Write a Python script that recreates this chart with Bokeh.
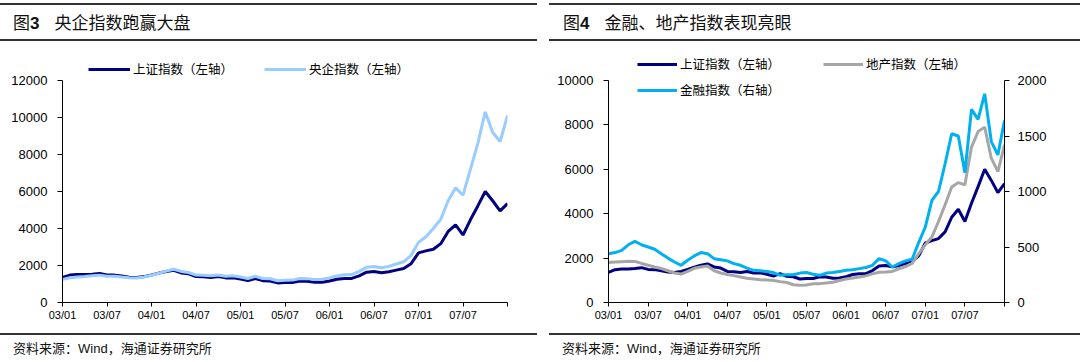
from bokeh.plotting import figure
from bokeh.models import Range1d, LinearAxis, FixedTicker, Legend, LegendItem, Div
from bokeh.layouts import row, column
from bokeh.embed import file_html
from bokeh.resources import INLINE

# ---------------- data (month index 0 = 2003/01 ... 60 = 2008/01) ----------------
months = list(range(61))
tick_pos = [0, 6, 12, 18, 24, 30, 36, 42, 48, 54, 60]
tick_labels = ["03/01", "03/07", "04/01", "04/07", "05/01", "05/07",
               "06/01", "06/07", "07/01", "07/07", ""]

shanghai = [1360, 1480, 1510, 1510, 1530, 1570, 1490, 1480, 1430, 1370, 1350, 1400, 1490,
            1590, 1680, 1740, 1600, 1550, 1400, 1390, 1350, 1400, 1330, 1340, 1270,
            1190, 1300, 1180, 1160, 1060, 1080, 1080, 1160, 1150, 1090, 1100, 1160,
            1260, 1300, 1300, 1440, 1640, 1670, 1610, 1660, 1750, 1840, 2100, 2680,
            2790, 2880, 3180, 3840, 4200, 3650, 4470, 5220, 6000, 5500, 4950, 5350]

yangqi = [1250, 1340, 1380, 1400, 1440, 1480, 1420, 1420, 1380, 1340, 1330, 1380, 1470,
          1580, 1700, 1800, 1680, 1620, 1480, 1470, 1440, 1490, 1420, 1440, 1380,
          1300, 1420, 1300, 1280, 1180, 1200, 1210, 1300, 1290, 1240, 1260, 1330,
          1440, 1500, 1510, 1680, 1900, 1950, 1880, 1950, 2080, 2200, 2550, 3250,
          3550, 4000, 4500, 5500, 6200, 5800, 7200, 8600, 10300, 9200, 8700, 10100]

dichan = [1800, 1820, 1840, 1860, 1850, 1760, 1680, 1600, 1530, 1430, 1330, 1280, 1400,
          1540, 1600, 1640, 1430, 1330, 1260, 1210, 1150, 1090, 1060, 1030, 1010,
          990, 940, 900, 800, 780, 790, 840, 850, 880, 910, 990, 1060,
          1100, 1150, 1200, 1290, 1360, 1370, 1400, 1520, 1620, 1760, 2200, 2600,
          2950, 3650, 4400, 5200, 5400, 5300, 7000, 7700, 7900, 6500, 5900, 7100]

jinrong = [440, 450, 470, 520, 550, 520, 500, 480, 440, 400, 365, 335, 380,
           420, 450, 440, 395, 385, 375, 350, 335, 310, 290, 285, 280,
           270, 245, 250, 250, 265, 270, 255, 245, 265, 270, 280, 290,
           295, 305, 315, 335, 395, 375, 320, 350, 375, 390, 540, 680,
           920, 1000, 1250, 1520, 1500, 1170, 1740, 1650, 1880, 1450, 1330, 1640]

left_ticks = [0, 2000, 4000, 6000, 8000, 10000, 12000]
right_left_ticks = [0, 2000, 4000, 6000, 8000, 10000]
right_right_ticks = [0, 500, 1000, 1500, 2000]

# ---------------- style ----------------
CJK = "Noto Sans CJK SC"
LAT = "Liberation Sans"
C_SH = "#000080"
C_YQ = "#99CCFF"
C_DC = "#A6A6A6"
C_JR = "#00B0F0"
RULE = "#333333"

FIG_H = 292          # figure height in px
FRAME_TOP = 9        # border above the frame (frame extends above top tick to hold legend)
FRAME_BOT = 31       # border below the frame
AXIS_PX = 222        # pixel length of the labelled axis span
FRAME_PX = FIG_H - FRAME_TOP - FRAME_BOT
EXT = FRAME_PX / AXIS_PX


def style_axis(ax, size):
    ax.axis_line_color = "black"
    ax.axis_line_width = 1
    ax.major_tick_line_color = "black"
    ax.major_tick_out = 5
    ax.major_tick_in = 0
    ax.minor_tick_line_color = None
    ax.major_label_text_font = LAT
    ax.major_label_text_font_size = size
    ax.major_label_text_color = "black"
    ax.major_label_standoff = 10


def base_fig(width, y_top, bl, br):
    p = figure(width=width, height=FIG_H, x_range=Range1d(0, 60), y_range=Range1d(0, y_top * EXT),
               output_backend="svg", toolbar_location=None,
               min_border_left=bl, min_border_right=br,
               min_border_top=FRAME_TOP, min_border_bottom=FRAME_BOT)
    p.outline_line_color = None
    p.grid.visible = False
    p.background_fill_color = "white"
    p.border_fill_color = "white"
    style_axis(p.xaxis[0], "11px")
    p.xaxis.ticker = FixedTicker(ticks=tick_pos)
    p.xaxis.major_label_overrides = {t: l for t, l in zip(tick_pos, tick_labels)}
    p.xaxis.major_tick_out = 4
    p.xaxis.major_label_standoff = 2
    style_axis(p.yaxis[0], "13px")
    p.yaxis.bounds = (0, y_top)
    return p


def make_legend(items, loc, spacing, gw):
    return Legend(items=items, location=loc, orientation="horizontal", spacing=spacing,
                  padding=0, margin=0, glyph_width=gw, glyph_height=14, label_standoff=3,
                  label_text_font=CJK, label_text_font_size="12.5px", label_text_color="black",
                  border_line_color=None, background_fill_alpha=0)


def title_div(num, text, width, ml, rw, pad):
    html = (f'<div style="box-sizing:border-box;margin-top:3px;margin-left:{ml}px;width:{rw}px;height:38px;'
            f'border-top:2px solid {RULE};border-bottom:2px solid {RULE};'
            f'padding-left:{pad}px;font-family:\'{CJK}\';font-size:17px;line-height:34px;'
            f'color:#111;white-space:nowrap;">图<b style="font-family:\'{LAT}\';">{num}</b>'
            f'<span style="margin-left:15px;">{text}</span></div>')
    return Div(text=html, width=width, height=41, margin=(0, 0, 0, 0))


def source_div(width, ml, rw, pad):
    html = (f'<div style="box-sizing:border-box;margin-left:{ml}px;width:{rw}px;height:29px;'
            f'border-top:2px solid {RULE};padding-left:{pad}px;font-family:\'{CJK}\';'
            f'font-size:13px;line-height:26px;color:#111;white-space:nowrap;">'
            f'资料来源：<span style="font-family:\'{LAT}\';">Wind</span>，海通证券研究所</div>')
    return Div(text=html, width=width, height=29, margin=(0, 0, 0, 0))


# ---------------- left chart ----------------
WL = 540
p1 = base_fig(WL, 12000, 62, 33)
p1.yaxis.ticker = FixedTicker(ticks=left_ticks)
r_sh1 = p1.line(months, shanghai, line_color=C_SH, line_width=3)
r_yq = p1.line(months, yangqi, line_color=C_YQ, line_width=3)
lg1 = make_legend([LegendItem(label="上证指数（左轴）", renderers=[r_sh1]),
                   LegendItem(label="央企指数（左轴）", renderers=[r_yq])], (26, 224), 31, 42)
p1.add_layout(lg1)

# ---------------- right chart ----------------
WR = 532
p2 = base_fig(WR, 10000, 60, 76)
p2.yaxis.ticker = FixedTicker(ticks=right_left_ticks)
p2.extra_y_ranges = {"r": Range1d(0, 2000 * EXT)}
ax_r = LinearAxis(y_range_name="r", ticker=FixedTicker(ticks=right_right_ticks))
style_axis(ax_r, "13px")
ax_r.major_label_standoff = 8
ax_r.bounds = (0, 2000)
p2.add_layout(ax_r, "right")
r_sh2 = p2.line(months, shanghai, line_color=C_SH, line_width=3)
r_dc = p2.line(months, dichan, line_color=C_DC, line_width=3)
r_jr = p2.line(months, jinrong, line_color=C_JR, line_width=3, y_range_name="r")
lg2a = make_legend([LegendItem(label="上证指数（左轴）", renderers=[r_sh2]),
                    LegendItem(label="地产指数（左轴）", renderers=[r_dc])], (29, 229), 43, 40)
lg2b = make_legend([LegendItem(label="金融指数（右轴）", renderers=[r_jr])], (29, 203), 43, 40)
p2.add_layout(lg2a)
p2.add_layout(lg2b)

left = column(title_div("3", "央企指数跑赢大盘", WL, 0, 537, 13), p1,
              source_div(WL, 0, 537, 13), spacing=0)
right = column(title_div("4", "金融、地产指数表现亮眼", WR, 1, 531, 14), p2,
               source_div(WR, 1, 531, 13), spacing=0)
layout = row(left, right, spacing=8)

open("out.html", "w").write(file_html(layout, INLINE))
